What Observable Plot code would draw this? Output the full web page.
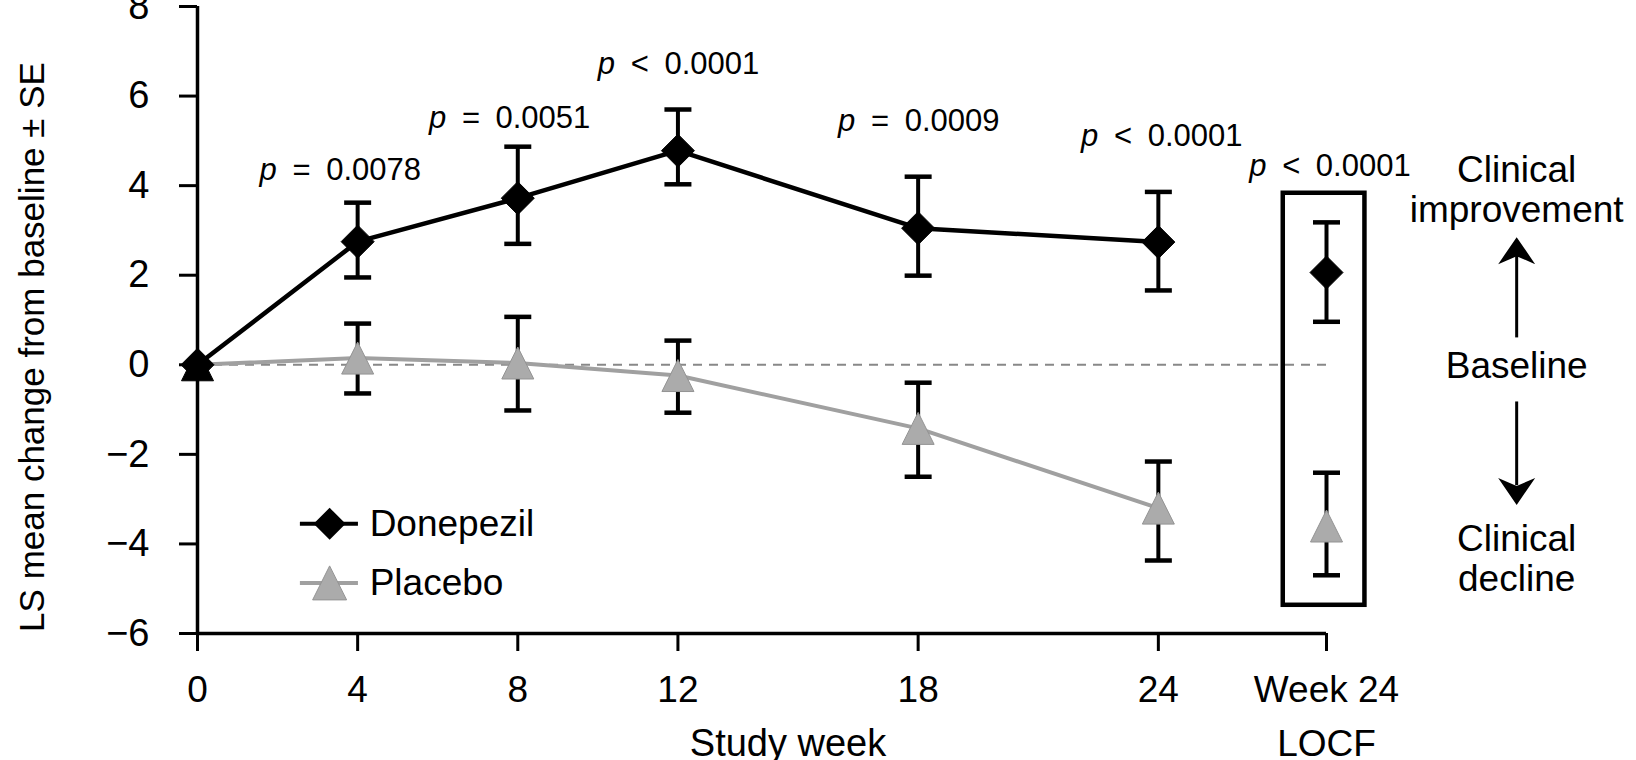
<!DOCTYPE html>
<html>
<head>
<meta charset="utf-8">
<script src="https://cdn.jsdelivr.net/npm/d3@7"></script>
<script src="https://cdn.jsdelivr.net/npm/@observablehq/plot@0.6"></script>
<style>
  html, body { margin: 0; padding: 0; background: #fff; }
  #chart { width: 1636px; height: 760px; }
</style>
</head>
<body>
<div id="chart"></div>
<script>
// ---------- data ----------
const weeks = [0, 4, 8, 12, 18, 24];
const donepezilMean  = [0, 2.75, 3.72, 4.78, 3.05, 2.74];
const donepezilLower = [0, 1.95, 2.70, 4.03, 1.99, 1.66];
const donepezilUpper = [0, 3.62, 4.87, 5.70, 4.20, 3.86];
const placeboMean  = [0, 0.15, 0.04, -0.24, -1.42, -3.20];
const placeboLower = [0, -0.64, -1.02, -1.07, -2.50, -4.37];
const placeboUpper = [0, 0.92, 1.07, 0.54, -0.40, -2.16];
// Week 24 LOCF: [mean, lower, upper]
const locfDonepezil = [2.06, 0.96, 3.18];
const locfPlacebo = [-3.60, -4.70, -2.41];
const seriesNames = ["Donepezil", "Placebo"];
const pRelations = ["=", "=", "<", "=", "<", "<"];
const pValues = ["0.0078", "0.0051", "0.0001", "0.0009", "0.0001", "0.0001"];
const yTicks = [-6, -4, -2, 0, 2, 4, 6, 8];
const xTickLabels = ["0", "4", "8", "12", "18", "24", "Week 24\nLOCF"];
const yTitle = "LS mean change from baseline \u00b1 SE";
const xTitle = "Study week";
const sideLabels = ["Clinical\nimprovement", "Baseline", "Clinical\ndecline"];

// ---------- layout (data-space anchors for annotations) ----------
const layout = {
  locfX: 28.2,
  pAnchors: [[1.55, 4.34], [5.78, 5.50], [10.0, 6.71], [16.0, 5.44], [22.07, 5.10], [26.27, 4.43]],
  legend: {x1: 2.57, x2: 4.02, xm: 3.3, xt: 4.3, ys: [-3.55, -4.87]},
  box: {x1: 27.12, x2: 29.16, y1: -5.37, y2: 3.83},
  sideX: 32.95,
  sideY: [3.93, 0, -4.31],
  upShaft: [0.6, 2.5], upTip: 2.85,
  downShaft: [-0.83, -2.7], downTip: -3.13
};

const BLACK = "#000";
const GREY_LINE = "#a0a0a0";
const GREY_FILL = "#ababab";
const SANS = "'Liberation Sans',Arial,Helvetica,sans-serif";

// ---------- rows ----------
const rows = [];
weeks.forEach((w, i) => {
  rows.push({series: "Donepezil", x: w, mean: donepezilMean[i], lo: donepezilLower[i], hi: donepezilUpper[i], locf: false});
  rows.push({series: "Placebo", x: w, mean: placeboMean[i], lo: placeboLower[i], hi: placeboUpper[i], locf: false});
});
rows.push({series: "Donepezil", x: layout.locfX, mean: locfDonepezil[0], lo: locfDonepezil[1], hi: locfDonepezil[2], locf: true});
rows.push({series: "Placebo", x: layout.locfX, mean: locfPlacebo[0], lo: locfPlacebo[1], hi: locfPlacebo[2], locf: true});

const don = rows.filter(d => d.series === "Donepezil");
const pla = rows.filter(d => d.series === "Placebo");
const bars = rows.filter(d => d.x > 0);

const pRows = pValues.map((v, i) => ({x: layout.pAnchors[i][0], y: layout.pAnchors[i][1], rel: pRelations[i] + "\u2002" + v}));
const legendRows = seriesNames.map((s, i) => ({series: s, y: layout.legend.ys[i]}));
const sideRows = sideLabels.map((s, i) => ({text: s, y: layout.sideY[i]}));
const xTickValues = [...weeks, layout.locfX];

// ---------- custom symbols ----------
const rOf = size => Math.sqrt(size / Math.PI);
const capSymbol = {draw(ctx, size) { const r = rOf(size); ctx.moveTo(-r, 0); ctx.lineTo(r, 0); }};
const diamondSymbol = {draw(ctx, size) { const r = rOf(size); ctx.moveTo(0, -r); ctx.lineTo(r, 0); ctx.lineTo(0, r); ctx.lineTo(-r, 0); ctx.closePath(); }};
const triangleSymbol = {draw(ctx, size) { const r = rOf(size); ctx.moveTo(0, -r); ctx.lineTo(r, r); ctx.lineTo(-r, r); ctx.closePath(); }};
const arrowHead = {draw(ctx, size) { const r = rOf(size); ctx.moveTo(0, 0); ctx.lineTo(r, 1.46 * r); ctx.lineTo(0, 1.03 * r); ctx.lineTo(-r, 1.46 * r); ctx.closePath(); }};

const chart = Plot.plot({
  width: 1636,
  height: 760,
  marginLeft: 197,
  marginRight: 310,
  marginTop: 6,
  marginBottom: 127,
  style: {fontFamily: SANS, background: "#fff", color: "#000"},
  color: {type: "identity"},
  x: {domain: [0, layout.locfX], axis: null},
  y: {domain: [-6, 8], axis: null},
  marks: [
    // axes
    Plot.axisY({ticks: yTicks, tickSize: 18, tickPadding: 30, strokeWidth: 3, fontSize: 38, label: null}),
    Plot.axisX({ticks: xTickValues, tickSize: 18, tickPadding: 12, strokeWidth: 3, fontSize: 37, lineHeight: 1.46, label: null,
      tickFormat: d => xTickLabels[xTickValues.indexOf(d)]}),
    Plot.ruleX([0], {stroke: BLACK, strokeWidth: 3.5}),
    Plot.ruleY([-6], {stroke: BLACK, strokeWidth: 3.5}),
    // baseline
    Plot.ruleY([0], {x1: 0, x2: layout.locfX, stroke: "#888", strokeWidth: 2, strokeDasharray: "9,7"}),
    // LOCF box
    Plot.rect([layout.box], {x1: "x1", x2: "x2", y1: "y1", y2: "y2", fill: "none", stroke: BLACK, strokeWidth: 4.5}),
    // lines
    Plot.line(pla.filter(d => !d.locf), {x: "x", y: "mean", stroke: GREY_LINE, strokeWidth: 4}),
    Plot.line(don.filter(d => !d.locf), {x: "x", y: "mean", stroke: BLACK, strokeWidth: 4.5}),
    // error bars
    Plot.ruleX(bars, {x: "x", y1: "lo", y2: "hi", stroke: BLACK, strokeWidth: 4}),
    Plot.dot(bars, {x: "x", y: "lo", symbol: capSymbol, r: 13.5, fill: "none", stroke: BLACK, strokeWidth: 4.5}),
    Plot.dot(bars, {x: "x", y: "hi", symbol: capSymbol, r: 13.5, fill: "none", stroke: BLACK, strokeWidth: 4.5}),
    // markers
    Plot.dot(pla, {x: "x", y: "mean", symbol: triangleSymbol, r: 16, fill: d => d.x === 0 ? BLACK : GREY_FILL, stroke: d => d.x === 0 ? BLACK : "#939393", strokeWidth: 1}),
    Plot.dot(don, {x: "x", y: "mean", symbol: diamondSymbol, r: 16.5, fill: BLACK, stroke: BLACK, strokeWidth: 1}),
    // p-values
    Plot.text(pRows, {x: "x", y: "y", text: () => "p", textAnchor: "start", fontStyle: "italic", fontSize: 31}),
    Plot.text(pRows, {x: "x", y: "y", text: "rel", textAnchor: "start", dx: 33, fontSize: 31}),
    // legend
    Plot.ruleY(legendRows.filter(d => d.series === "Donepezil"), {y: "y", x1: layout.legend.x1, x2: layout.legend.x2, stroke: BLACK, strokeWidth: 4}),
    Plot.ruleY(legendRows.filter(d => d.series === "Placebo"), {y: "y", x1: layout.legend.x1, x2: layout.legend.x2, stroke: GREY_LINE, strokeWidth: 4}),
    Plot.dot(legendRows.filter(d => d.series === "Donepezil"), {x: layout.legend.xm, y: "y", symbol: diamondSymbol, r: 16, fill: BLACK}),
    Plot.dot(legendRows.filter(d => d.series === "Placebo"), {x: layout.legend.xm, y: "y", symbol: triangleSymbol, r: 17, fill: GREY_FILL, stroke: "#939393", strokeWidth: 1}),
    Plot.text(legendRows, {x: layout.legend.xt, y: "y", text: "series", textAnchor: "start", fontSize: 37}),
    // side annotations
    Plot.text(sideRows, {x: layout.sideX, y: "y", text: "text", fontSize: 37, lineHeight: 1.08}),
    Plot.ruleX([{y1: layout.upShaft[0], y2: layout.upShaft[1]}], {x: layout.sideX, y1: "y1", y2: "y2", stroke: BLACK, strokeWidth: 3}),
    Plot.ruleX([{y1: layout.downShaft[0], y2: layout.downShaft[1]}], {x: layout.sideX, y1: "y1", y2: "y2", stroke: BLACK, strokeWidth: 3}),
    Plot.dot([layout.upTip], {x: layout.sideX, y: d => d, symbol: arrowHead, r: 18.5, fill: BLACK}),
    Plot.dot([layout.downTip], {x: layout.sideX, y: d => d, symbol: arrowHead, r: 18.5, fill: BLACK, rotate: 180}),
    // axis titles
    Plot.text([yTitle], {frameAnchor: "left", dx: -165, dy: 27, rotate: -90, fontSize: 35, textAnchor: "middle", lineAnchor: "middle"}),
    Plot.text([xTitle], {frameAnchor: "bottom", dx: 26, dy: 110, fontSize: 38, lineAnchor: "middle"})
  ]
});
document.getElementById("chart").appendChild(chart);
</script>
</body>
</html>
